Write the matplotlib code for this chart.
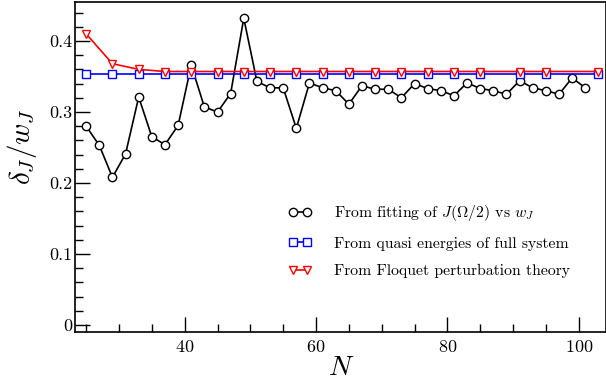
import numpy as np
import matplotlib
matplotlib.use("Agg")
import matplotlib.pyplot as plt
from matplotlib.ticker import MultipleLocator

plt.rcParams['font.family'] = 'serif'
plt.rcParams['font.serif'] = ['cmr10', 'DejaVu Serif']
plt.rcParams['mathtext.fontset'] = 'cm'
plt.rcParams['axes.formatter.use_mathtext'] = True

# fitted values (black circles)
n_fit = list(range(25, 102, 2))
d_fit = [0.280, 0.253, 0.208, 0.241, 0.321, 0.265, 0.254, 0.281, 0.366, 0.307,
         0.300, 0.326, 0.432, 0.343, 0.334, 0.334, 0.277, 0.341, 0.334, 0.330,
         0.311, 0.337, 0.332, 0.332, 0.320, 0.340, 0.333, 0.330, 0.323, 0.341,
         0.333, 0.330, 0.325, 0.344, 0.334, 0.330, 0.325, 0.348, 0.334]

# quasi energies / Floquet perturbation theory
n_th = [25, 29, 33, 37, 41, 45, 49, 53, 57, 61, 65, 69, 73, 77, 81, 85, 91, 95, 103]
d_quasi = [0.354, 0.354, 0.354, 0.354, 0.354, 0.354, 0.354, 0.354, 0.354, 0.354,
           0.354, 0.354, 0.354, 0.354, 0.354, 0.354, 0.354, 0.354, 0.354]
d_floq = [0.410, 0.368, 0.360, 0.357, 0.357, 0.357, 0.357, 0.357, 0.357, 0.357,
          0.357, 0.357, 0.357, 0.357, 0.357, 0.357, 0.357, 0.357, 0.357]

fig = plt.figure(figsize=(6.06, 3.9), dpi=100)
ax = fig.add_axes([0.1243, 0.1487, 0.8762, 0.8462])

ax.plot(n_fit, d_fit, color='black', lw=1.2, marker='o', ms=6,
        mfc='white', mec='black', mew=1.0,
        label=r'From fitting of $J(\Omega/2)$ vs $w_J$')
ax.plot(n_th, d_quasi, color='blue', lw=1.2, marker='s', ms=6,
        mfc='white', mec='blue', mew=1.0,
        label='From quasi energies of full system')
ax.plot(n_th, d_floq, color='red', lw=1.2, marker='v', ms=6,
        mfc='white', mec='red', mew=1.0,
        label='From Floquet perturbation theory')

ax.set_xlim(23.35, 104.2)
ax.set_ylim(-0.00985, 0.4549)

ax.xaxis.set_major_locator(MultipleLocator(20))
ax.xaxis.set_minor_locator(MultipleLocator(5))
ax.set_yticks([0, 0.1, 0.2, 0.3, 0.4])
ax.set_yticklabels(['0', '0.1', '0.2', '0.3', '0.4'])
ax.yaxis.set_minor_locator(MultipleLocator(0.02))
ax.tick_params(which='both', direction='in', labelsize=13, width=1.0)
ax.tick_params(which='major', length=11)
ax.tick_params(which='minor', length=6)
ax.tick_params(axis='y', pad=2)
ax.tick_params(axis='x', pad=5)
for s in ax.spines.values():
    s.set_linewidth(1.2)

ax.set_xlabel(r'$N$', fontsize=20, labelpad=0)
ax.set_ylabel(r'$\delta_J/w_J$', fontsize=21)
ax.yaxis.set_label_coords(-0.068, 0.56)

ax.legend(loc='upper left', bbox_to_anchor=(0.375, 0.433), frameon=False,
          fontsize=11.3, numpoints=2, handlelength=1.5, handletextpad=1.4,
          labelspacing=0.85)

fig.savefig('out.png', dpi=100)
